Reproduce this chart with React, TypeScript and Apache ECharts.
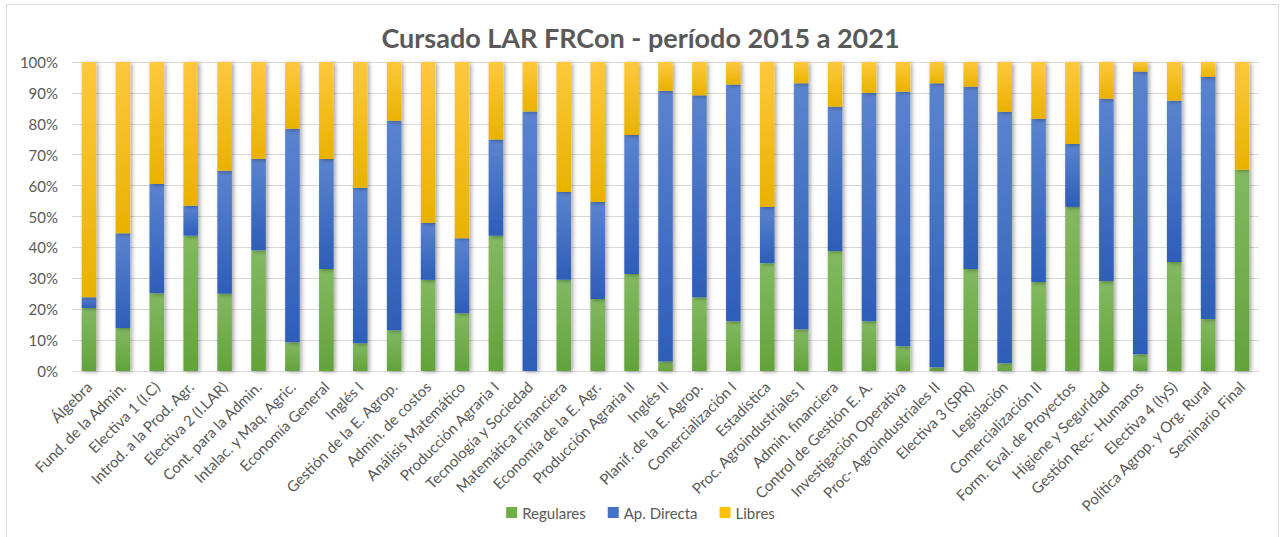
import React, { useEffect, useRef } from "react";
import * as echarts from "echarts";

const categories = [
  "Álgebra", "Fund. de la Admin.", "Electiva 1 (I.C)", "Introd. a la Prod. Agr.", "Electiva 2 (I.LAR)",
  "Cont. para la Admin.", "Intalac. y Maq. Agric.", "Economía General", "Inglés I", "Gestión de la E. Agrop.",
  "Admin. de costos", "Análisis Matemático", "Producción Agraria I", "Tecnología y Sociedad", "Matemática Financiera",
  "Economía de la E. Agr.", "Producción Agraria II", "Inglés II", "Planif. de la E. Agrop.", "Comercialización I",
  "Estadística", "Proc. Agroindustriales I", "Admin. financiera", "Control de Gestión E. A.", "Investigación Operativa",
  "Proc- Agroindustriales II", "Electiva 3 (SPR)", "Legislación", "Comercialización II", "Form. Eval. de Proyectos",
  "Higiene y Seguridad", "Gestión Rec- Humanos", "Electiva 4 (IyS)", "Política Agrop. y Org. Rural", "Seminario Final",
];

const regulares = [
  20.4, 13.9, 25.2, 43.8, 25.0, 39.1, 9.3, 33.0, 9.0, 13.2,
  29.5, 18.7, 43.8, 0, 29.5, 23.3, 31.4, 3.1, 23.9, 16.1,
  34.9, 13.5, 38.8, 16.1, 8.0, 1.2, 33.0, 2.5, 28.8, 53.1,
  29.1, 5.4, 35.3, 16.8, 65.1,
];

const apDirecta = [
  3.5, 30.7, 35.3, 9.7, 39.8, 29.5, 69.1, 35.6, 50.3, 67.8,
  18.4, 24.3, 31.1, 84.0, 28.4, 31.4, 45.0, 87.6, 65.3, 76.6,
  18.2, 79.6, 46.7, 73.9, 82.4, 91.9, 59.0, 81.4, 52.8, 20.4,
  59.0, 91.5, 52.2, 78.4, 0,
];

const libres = [
  76.1, 55.4, 39.5, 46.5, 35.2, 31.4, 21.6, 31.4, 40.7, 19.0,
  52.1, 57.0, 25.1, 16.0, 42.1, 45.3, 23.6, 9.3, 10.8, 7.3,
  46.9, 6.9, 14.5, 10.0, 9.6, 6.9, 8.0, 16.1, 18.4, 26.5,
  11.9, 3.1, 12.5, 4.8, 34.9,
];

const seriesNames = ["Regulares", "Ap. Directa", "Libres"];
const yTicks = [0, 10, 20, 30, 40, 50, 60, 70, 80, 90, 100];

const FONT = "Lato, 'Open Sans', sans-serif";
const TEXT = "#595959";

function grad(top: string, bottom: string) {
  return new echarts.graphic.LinearGradient(0, 0, 0, 1, [
    { offset: 0, color: top },
    { offset: 1, color: bottom },
  ]);
}

export default function App() {
  const ref = useRef<HTMLDivElement>(null);

  useEffect(() => {
    if (!ref.current) return;
    const chart = echarts.init(ref.current, null, { renderer: "svg" });
    const shadow = {
      shadowColor: "rgba(0,0,0,0.35)",
      shadowBlur: 4,
      shadowOffsetX: 2,
      shadowOffsetY: 1,
    };
    const fills = [
      grad("#83b962", "#62a33a"),
      grad("#5b84cf", "#2d5eb8"),
      grad("#ffc83d", "#e8b200"),
    ];
    const legendColors = ["#70ad47", "#4472c4", "#ffc000"];
    const dataSets = [regulares, apDirecta, libres];

    chart.setOption({
      animation: false,
      backgroundColor: "#ffffff",
      textStyle: { fontFamily: FONT },
      title: {
        text: "Cursado LAR FRCon - período 2015 a 2021",
        left: "center",
        top: 19,
        textStyle: { fontFamily: FONT, fontSize: 27, fontWeight: "bold", color: TEXT },
      },
      graphic: [
        {
          type: "rect",
          shape: { x: 6.5, y: 4.5, width: 1272, height: 540 },
          style: { fill: "none", stroke: "#d9d9d9", lineWidth: 1 },
          silent: true,
          z: -10,
        },
      ],
      legend: {
        bottom: 12,
        left: "center",
        itemWidth: 11,
        itemHeight: 11,
        itemGap: 22,
        icon: "rect",
        textStyle: { fontFamily: FONT, fontSize: 15, color: TEXT },
        data: seriesNames.map((n, i) => ({ name: n, itemStyle: { color: legendColors[i] } })),
      },
      grid: { left: 72, right: 22, top: 62, bottom: 166 },
      xAxis: {
        type: "category",
        data: categories,
        axisLine: { show: true, lineStyle: { color: "#d9d9d9", width: 1 } },
        axisTick: { show: false },
        axisLabel: {
          rotate: 45,
          interval: 0,
          margin: 13,
          fontFamily: FONT,
          fontSize: 15,
          color: TEXT,
        },
      },
      yAxis: {
        type: "value",
        min: yTicks[0],
        max: yTicks[yTicks.length - 1],
        interval: 10,
        axisLine: { show: false },
        axisTick: { show: false },
        splitLine: { lineStyle: { color: "#d9d9d9", width: 1 } },
        axisLabel: {
          formatter: "{value}%",
          fontFamily: FONT,
          fontSize: 15,
          color: TEXT,
          margin: 14,
        },
      },
      series: seriesNames.map((name, i) => ({
        name,
        type: "bar",
        stack: "total",
        barWidth: "43%",
        data: dataSets[i],
        itemStyle: { color: fills[i], ...shadow },
        emphasis: { disabled: true },
      })),
    });
    return () => chart.dispose();
  }, []);

  return (
    <div
      ref={ref}
      style={{ position: "absolute", left: 0, top: 0, width: 1281, height: 537 }}
    />
  );
}
